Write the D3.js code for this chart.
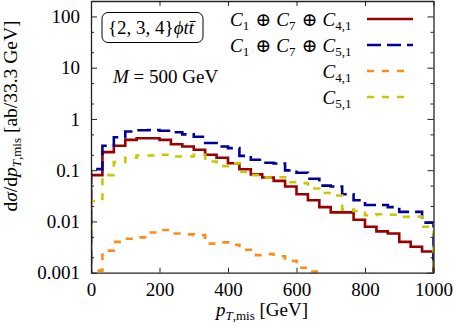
<!DOCTYPE html>
<html>
<head>
<meta charset="utf-8">
<script src="https://cdn.jsdelivr.net/npm/d3@7"></script>
<style>
  body { margin: 0; background: #fff; }
  svg text { font-family: "Liberation Serif", "DejaVu Serif", serif; fill: #000; }
</style>
</head>
<body>
<div id="chart"></div>
<script>
// bins of 33.3 GeV from 0 to 1000
var binWidth = 1000 / 30;
var binStarts = d3.range(30).map(function(i) { return i * binWidth; });

// dsigma/dpT per bin
var c17c41 = [0.080, 0.225, 0.30, 0.39, 0.42, 0.42, 0.39, 0.32, 0.29, 0.25,
              0.20, 0.175, 0.137, 0.104, 0.083, 0.072, 0.062, 0.048, 0.034, 0.026,
              0.019, 0.015, 0.015, 0.0108, 0.0079, 0.0064, 0.0058, 0.0040, 0.0032, 0.0026];
var c17c51 = [0.105, 0.30, 0.44, 0.57, 0.60, 0.61, 0.59, 0.55, 0.50, 0.45,
              0.34, 0.29, 0.27, 0.19, 0.16, 0.14, 0.135, 0.099, 0.089, 0.068,
              0.050, 0.048, 0.034, 0.026, 0.021, 0.021, 0.019, 0.0154, 0.0154, 0.0095];
var c41 = [0.0011, 0.0027, 0.0040, 0.0046, 0.0049, 0.0061, 0.0068, 0.0058, 0.0056, 0.0054,
           0.0037, 0.0039, 0.0035, 0.0028, 0.0022, 0.0023, 0.0021, 0.0017, 0.00125, 0.00105,
           0.0008, 0.0007, 0.0006, 0.0005, 0.0004, 0.0004, 0.0003, 0.0003, 0.0002, 0.0002];
var c51 = [0.025, 0.08, 0.144, 0.175, 0.194, 0.194, 0.20, 0.185, 0.185, 0.20,
           0.148, 0.12, 0.137, 0.092, 0.08, 0.072, 0.073, 0.058, 0.056, 0.044,
           0.036, 0.032, 0.017, 0.016, 0.0132, 0.0138, 0.0135, 0.0123, 0.0125, 0.0079];

var xTicks = [0, 200, 400, 600, 800, 1000];
var xTickLabels = ["0", "200", "400", "600", "800", "1000"];
var yTicks = [0.001, 0.01, 0.1, 1, 10, 100];
var yTickLabels = ["0.001", "0.01", "0.1", "1", "10", "100"];
var yMinor = [0.002, 0.005, 0.02, 0.05, 0.2, 0.5, 2, 5, 20, 50, 200];

var W = 455, H = 327;
var plotLeft = 91, plotRight = 433.5, plotTop = 1, plotBottom = 272.7;

var svg = d3.select("#chart").append("svg")
    .attr("width", W).attr("height", H);

var x = d3.scaleLinear().domain([0, 1000]).range([plotLeft, plotRight]);
var y = d3.scaleLog().domain([0.001, 200]).range([plotBottom, plotTop]);

svg.append("clipPath").attr("id", "plot-clip")
  .append("rect")
    .attr("x", plotLeft).attr("y", plotTop)
    .attr("width", plotRight - plotLeft).attr("height", plotBottom - plotTop);

// series: values, colour, dash, legend sample length
var series = [
  {vals: c17c41, color: "#990000", dash: null, len: 46},
  {vals: c17c51, color: "#000099", dash: "14,6", len: 46},
  {vals: c41, color: "#ff8c1a", dash: "7,8", len: 40},
  {vals: c51, color: "#c8c800", dash: "7,8", len: 40}
];

var line = d3.line()
    .x(function(d) { return x(d[0]); })
    .y(function(d) { return y(d[1]); })
    .curve(d3.curveStepAfter);

var plot = svg.append("g").attr("clip-path", "url(#plot-clip)");
series.forEach(function(s) {
  var pts = [[0, 0.0001]];
  s.vals.forEach(function(v, i) { pts.push([binStarts[i], v]); });
  pts.push([1000, s.vals[s.vals.length - 1]]);
  pts.push([1000, 0.0001]);
  plot.append("path")
    .attr("d", line(pts))
    .attr("fill", "none")
    .attr("stroke", s.color)
    .attr("stroke-width", 2.6)
    .attr("stroke-dasharray", s.dash);
});

// axes, ticks pointing inward
function styleAxis(g) {
  g.select(".domain").attr("stroke", "#222").attr("stroke-width", 1.3);
  g.selectAll(".tick line").attr("stroke", "#222").attr("stroke-width", 1);
  g.selectAll("text").attr("font-family", "Liberation Serif, serif").attr("font-size", 19).attr("fill", "#000");
}

svg.append("g").attr("transform", "translate(0," + plotBottom + ")")
  .call(d3.axisBottom(x).tickValues(xTicks).tickSize(-5).tickSizeOuter(0).tickPadding(10)
    .tickFormat(function(d, i) { return xTickLabels[i]; }))
  .call(styleAxis);
svg.append("g").attr("transform", "translate(0," + plotTop + ")")
  .call(d3.axisTop(x).tickValues(xTicks).tickSize(-5).tickSizeOuter(0).tickFormat(""))
  .call(styleAxis);
svg.append("g").attr("transform", "translate(" + plotLeft + ",0)")
  .call(d3.axisLeft(y).tickValues(yTicks).tickSize(-6).tickSizeOuter(0).tickPadding(11)
    .tickFormat(function(d, i) { return yTickLabels[i]; }))
  .call(styleAxis);
svg.append("g").attr("transform", "translate(" + plotRight + ",0)")
  .call(d3.axisRight(y).tickValues(yTicks).tickSize(-6).tickSizeOuter(0).tickFormat(""))
  .call(styleAxis);
svg.append("g").attr("transform", "translate(" + plotLeft + ",0)")
  .call(d3.axisLeft(y).tickValues(yMinor).tickSize(-3).tickSizeOuter(0).tickFormat(""))
  .call(styleAxis).select(".domain").remove();
svg.append("g").attr("transform", "translate(" + plotRight + ",0)")
  .call(d3.axisRight(y).tickValues(yMinor).tickSize(-3).tickSizeOuter(0).tickFormat(""))
  .call(styleAxis).select(".domain").remove();

// axis titles
var xl = svg.append("text").attr("x", 262).attr("y", 316).attr("text-anchor", "middle")
  .attr("font-size", 19);
xl.append("tspan").attr("font-style", "italic").text("p");
xl.append("tspan").attr("font-size", 13).attr("dy", 4).attr("font-style", "italic").text("T");
xl.append("tspan").attr("font-size", 13).text(",mis");
xl.append("tspan").attr("dy", -4).text(" [GeV]");

var yl = svg.append("text").attr("transform", "translate(17,116) rotate(-90)")
  .attr("text-anchor", "middle").attr("font-size", 19.5);
yl.append("tspan").text("d");
yl.append("tspan").attr("font-style", "italic").text("σ");
yl.append("tspan").text("/d");
yl.append("tspan").attr("font-style", "italic").text("p");
yl.append("tspan").attr("font-size", 13).attr("dy", 4).attr("font-style", "italic").text("T");
yl.append("tspan").attr("font-size", 13).text(",mis");
yl.append("tspan").attr("dy", -4).text(" [ab/33.3 GeV]");

// process label box
svg.append("rect").attr("x", 102).attr("y", 12.5).attr("width", 101).attr("height", 30)
  .attr("rx", 6).attr("fill", "#fff").attr("stroke", "#000").attr("stroke-width", 1);
var bl = svg.append("text").attr("x", 108).attr("y", 34).attr("font-size", 19);
bl.append("tspan").text("{2, 3, 4}");
bl.append("tspan").attr("font-style", "italic").text("ϕtt\u0304");

var ml = svg.append("text").attr("x", 113).attr("y", 83).attr("font-size", 19);
ml.append("tspan").attr("font-style", "italic").text("M");
ml.append("tspan").text(" = 500 GeV");

// legend
var legendNames = [
  [["C", "1"], ["C", "7"], ["C", "4,1"]],
  [["C", "1"], ["C", "7"], ["C", "5,1"]],
  [["C", "4,1"]],
  [["C", "5,1"]]
];
series.forEach(function(s, i) {
  var cy = 19 + 26 * i;
  var t = svg.append("text").attr("x", 353).attr("y", cy + 7)
    .attr("text-anchor", "end").attr("font-size", 19);
  legendNames[i].forEach(function(p, j) {
    if (j > 0) t.append("tspan").text(" ⊕ ");
    t.append("tspan").attr("font-style", "italic").text(p[0]);
    t.append("tspan").attr("font-size", 13).attr("dy", 4).text(p[1]);
    t.append("tspan").attr("dy", -4).text("\u200a");
  });
  svg.append("line")
    .attr("x1", 367).attr("x2", 367 + s.len)
    .attr("y1", cy).attr("y2", cy)
    .attr("stroke", s.color).attr("stroke-width", 2.6)
    .attr("stroke-dasharray", s.dash);
});
</script>
</body>
</html>
